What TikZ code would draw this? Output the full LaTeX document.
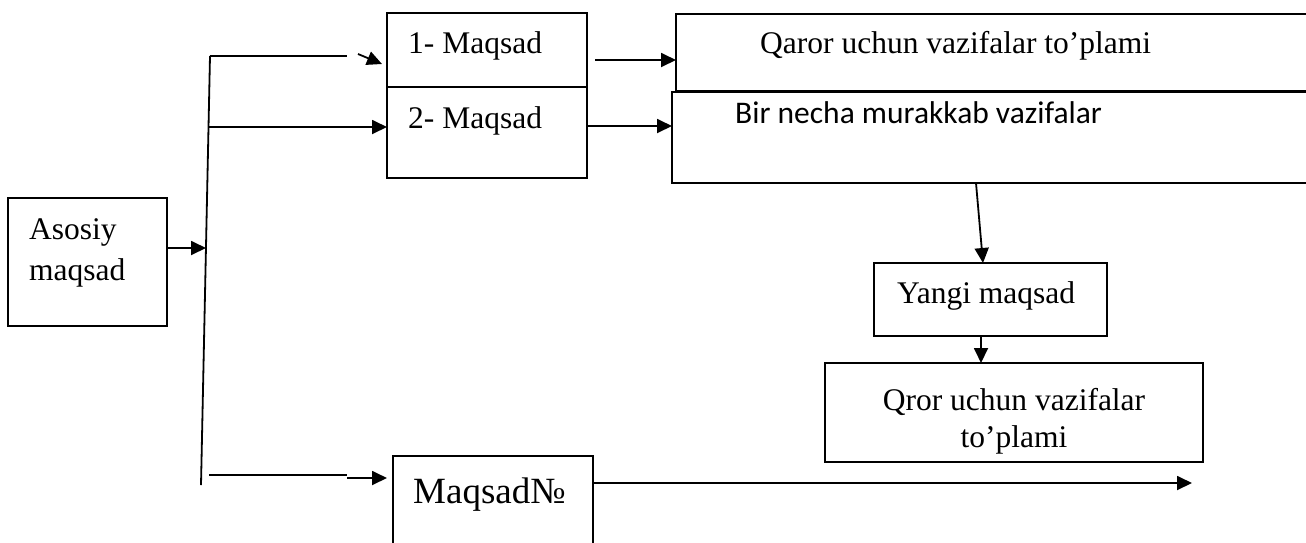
\documentclass[tikz,border=0pt]{standalone}
\usepackage{fontspec}
\setmainfont{Liberation Serif}
\newfontfamily\calibrifont{Carlito}
\usetikzlibrary{arrows.meta,calc}
\begin{document}
\begin{tikzpicture}[x=1pt,y=-1pt,
  box/.style={draw, line width=1.8pt, inner sep=0pt, outer sep=0pt, anchor=north west},
  txt/.style={anchor=base west, inner sep=0pt, font=\fontsize{31.5}{36}\selectfont},
  link/.style={line width=1.8pt},
  arr/.style={link, -{Triangle[length=15pt,width=14pt]}}]
\useasboundingbox (0,0) rectangle (1306,542);
\clip (0,0) rectangle (1306,542);

% boxes
\node[box, minimum width=159pt, minimum height=128pt] (asosiy) at (8,198) {};
\node[box, minimum width=200pt, minimum height=74pt]  (m1)     at (387,13) {};
\node[box, minimum width=200pt, minimum height=91pt]  (m2)     at (387,87) {};
\node[box, minimum width=650pt, minimum height=77pt]  (qaror)  at (676,14) {};
\node[box, minimum width=650pt, minimum height=91pt]  (bir)    at (672,92) {};
\node[box, minimum width=233pt, minimum height=73pt]  (yangi)  at (874,263) {};
\node[box, minimum width=378pt, minimum height=99pt]  (qror)   at (825,363) {};
\node[box, minimum width=200pt, minimum height=110pt] (m3)     at (393,456) {};

% texts
\node[txt] (tasosiy) at (29,239) {Asosiy};
\node[txt] (tmaqsad) at (29,280) {maqsad};
\node[txt] (t1) at (408,53) {1- Maqsad};
\node[txt] (t2) at (408,128) {2- Maqsad};
\node[txt] (tq) at (760,53) {Qaror uchun vazifalar to’plami};
\node[txt, font=\calibrifont\fontsize{31.5}{36}\selectfont] (tb) at (735,123) {Bir necha murakkab vazifalar};
\node[txt] (ty) at (897,303) {Yangi maqsad};
\node[txt, anchor=base] (tr1) at (1014,410) {Qror uchun vazifalar};
\node[txt, anchor=base] (tr2) at (1014,447) {to’plami};
\node[txt, font=\fontsize{37}{42}\selectfont] (tm) at (413,503) {Maqsad№};

% vertical distribution line
\coordinate (bustop) at (210,56);
\coordinate (busbot) at (201,485);
\draw[link] (bustop) -- (busbot);

% main goal into the distribution line
\coordinate (j0) at (206,248);
\draw[arr] (asosiy.east |- j0) -- (j0);

% branch to goal 1
\coordinate (b1) at (347,56);
\draw[link] (bustop) -- (b1);
\coordinate (k1s) at (358,54);
\coordinate (k1e) at (382,64);
\draw[arr] (k1s) -- (k1e);

% branch to goal 2
\coordinate (j2) at (208.5,127);
\draw[arr] (j2) -- (m2.west |- j2);

% branch to goal No
\coordinate (j3) at (209,475);
\coordinate (b3) at (347,475);
\draw[link] (j3) -- (b3);
\coordinate (k3) at (347,478);
\draw[arr] (k3) -- ($(m3.west |- k3)+(-6,0)$);

% goals to their tasks
\coordinate (s1) at (595,60);
\draw[arr] (s1) -- (qaror.west |- s1);
\coordinate (r2) at (600,126);
\draw[arr] (m2.east |- r2) -- (bir.west |- r2);

% complex tasks down to the new goal
\coordinate (d1) at (976,0);
\coordinate (d2) at (983,0);
\draw[arr] (bir.south -| d1) -- (yangi.north -| d2);
\coordinate (d3) at (981,0);
\draw[arr] (yangi.south -| d3) -- (qror.north -| d3);

% goal No onward
\coordinate (fin) at (1192,483);
\draw[arr] (m3.east |- fin) -- (fin);
\end{tikzpicture}
\end{document}
